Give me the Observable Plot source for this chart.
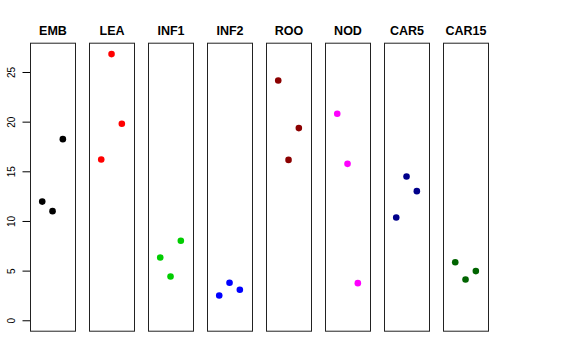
<!DOCTYPE html>
<html>
<head>
<meta charset="utf-8">
<script src="https://cdn.jsdelivr.net/npm/d3@7"></script>
<script src="https://cdn.jsdelivr.net/npm/@observablehq/plot@0.6"></script>
<style>
  html, body { margin: 0; padding: 0; background: #fff; }
</style>
</head>
<body>
<div id="chart"></div>
<script>
const groups = ["EMB", "LEA", "INF1", "INF2", "ROO", "NOD", "CAR5", "CAR15"];
const colors = ["#000000", "#FF0000", "#00CD00", "#0000FF", "#8B0000", "#FF00FF", "#00008B", "#006400"];
const positions = [1, 2, 3];
const rep1 = [12.0, 16.24, 6.37, 2.55, 24.2, 20.85, 10.4, 5.9];
const rep2 = [11.04, 26.85, 4.46, 3.83, 16.2, 15.8, 14.53, 4.16];
const rep3 = [18.29, 19.84, 8.06, 3.12, 19.4, 3.79, 13.05, 5.0];
const yTicks = [0, 5, 10, 15, 20, 25];

const reps = [rep1, rep2, rep3];
const points = [];
groups.forEach((g, i) => {
  reps.forEach((r, j) => {
    points.push({group: g, pos: positions[j], value: r[i], color: colors[i]});
  });
});

const xDomain = [-0.14, 4.23];
const pxPerX = 45 / (xDomain[1] - xDomain[0]);

const chart = Plot.plot({
  width: 576,
  height: 360,
  marginLeft: 29,
  marginRight: 88,
  marginTop: 42.7,
  marginBottom: 29.3,
  style: {fontFamily: "'Liberation Sans', Arial, Helvetica, sans-serif", background: "#fff"},
  fx: {domain: groups, paddingInner: 0.24, paddingOuter: 0, axis: null},
  x: {domain: xDomain, axis: null},
  y: {domain: [-1.05, 27.95], axis: null},
  marks: [
    Plot.frame({stroke: "#222", strokeWidth: 1}),
    Plot.ruleY(yTicks, {y: d => d, fx: () => groups[0], x1: xDomain[0] - 7.5 / pxPerX, x2: xDomain[0], stroke: "#000", clip: false}),
    Plot.text(yTicks, {
      y: d => d, fx: () => groups[0], text: d => String(d),
      frameAnchor: "left", rotate: -90, dx: -15.5, lineAnchor: "bottom", textAnchor: "middle",
      fontSize: 10, fill: "#000"
    }),
    Plot.text(groups, {
      fx: d => d, text: d => d, frameAnchor: "top", dy: -8.7, lineAnchor: "bottom",
      fontWeight: "bold", fontSize: 12.5, fill: "#000"
    }),
    Plot.dot(points, {fx: "group", x: "pos", y: "value", fill: "color", r: 3.3, stroke: null})
  ]
});
document.getElementById("chart").appendChild(chart);
</script>
</body>
</html>
